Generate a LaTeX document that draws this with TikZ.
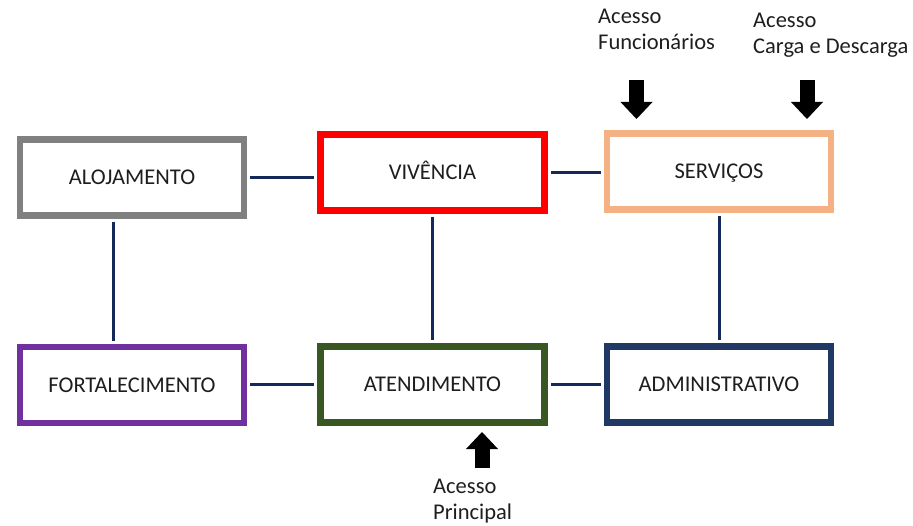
\documentclass[tikz,border=0pt]{standalone}
\usepackage{fontspec}
\setmainfont{Carlito}
\usepackage{tikz}
\usetikzlibrary{arrows.meta}
\tikzset{>={Triangle[width=32pt,length=17pt,line width=0pt]}}
\definecolor{boxgray}{HTML}{808080}
\definecolor{boxred}{HTML}{FF0000}
\definecolor{boxorange}{HTML}{F4B183}
\definecolor{boxpurple}{HTML}{7030A0}
\definecolor{boxgreen}{HTML}{385723}
\definecolor{boxnavy}{HTML}{1F3864}
\definecolor{linknavy}{HTML}{14285A}
\definecolor{txt}{HTML}{1E1E1E}
\tikzset{
  setor/.style={draw, line width=6.5pt, fill=white, minimum width=224pt,
    minimum height=76pt, inner sep=0pt, text=txt, text height=14.5pt,
    text depth=0pt, font=\fontsize{22.5}{27}\selectfont},
  elo/.style={draw=linknavy, line width=3pt, shorten <=3pt, shorten >=3pt},
  acesso/.style={->, line width=15pt, black},
  rotulo/.style={anchor=north west, inner sep=0pt, align=left, text=txt,
    font=\fontsize{22.5}{26.5}\selectfont}
}

\begin{document}
\begin{tikzpicture}[x=1pt,y=-1pt]
\useasboundingbox (0,0) rectangle (913,526);

\node[setor, draw=boxgray] (alo) at (132,177.5) {ALOJAMENTO};
\node[setor, draw=boxred] (viv) at (432.5,172.5) {VIVÊNCIA};
\node[setor, draw=boxorange] (ser) at (719,171.5) {SERVIÇOS};

\node[setor, draw=boxpurple] (for) at (132,385) {FORTALECIMENTO};
\node[setor, draw=boxgreen] (ate) at (432.5,384.5) {ATENDIMENTO};
\node[setor, draw=boxnavy] (adm) at (719,384.5) {ADMINISTRATIVO};

\draw[elo] (alo.east) -- (alo.east -| viv.west);
\draw[elo] (viv.east) -- (viv.east -| ser.west);
\draw[elo] ([xshift=-19pt]alo.south) -- ([xshift=-19pt]for.north);
\draw[elo] (viv.south) -- (viv.south |- ate.north);
\draw[elo] (ser.south) -- (ser.south |- adm.north);
\draw[elo] (for.east) -- (for.east -| ate.west);
\draw[elo] (ate.east) -- (ate.east -| adm.west);

\node[rotulo] (tfun) at (598,8.5) {Acesso\\Funcionários};
\node[rotulo] (tcar) at (753,12.5) {Acesso\\Carga e Descarga};
\node[rotulo] (tpri) at (433,478.5) {Acesso\\Principal};

\coordinate (fun1) at (636.5,80);
\coordinate (fun2) at (636.5,119);
\coordinate (car1) at (807,80);
\coordinate (car2) at (807,119);
\coordinate (pri1) at (482,468);
\coordinate (pri2) at (482,432);

\draw[acesso] (fun1) -- (fun2);
\draw[acesso] (car1) -- (car2);
\draw[acesso] (pri1) -- (pri2);
\end{tikzpicture}
\end{document}
